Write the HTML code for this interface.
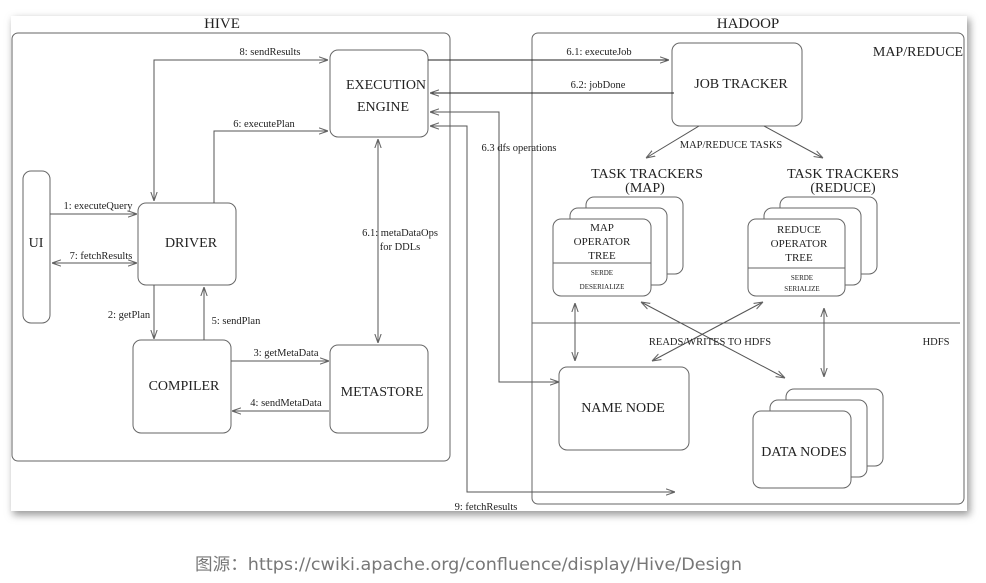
<!DOCTYPE html>
<html><head><meta charset="utf-8"><style>
html,body{margin:0;padding:0;background:#fff;}
svg{display:block;}
</style></head><body>
<svg width="986" height="583" viewBox="0 0 986 583" xmlns="http://www.w3.org/2000/svg">
<defs>
<filter id="sh" x="-5%" y="-5%" width="110%" height="115%"><feGaussianBlur stdDeviation="4"/></filter>
<marker id="a" viewBox="0 0 10 10" refX="10" refY="5" markerWidth="9" markerHeight="9" orient="auto-start-reverse" markerUnits="userSpaceOnUse"><path d="M0,1.5 L10,5 L0,8.5 M0,1.5 L10,5" fill="none" stroke="#666" stroke-width="1.2"/></marker>
</defs>
<rect x="13" y="19" width="957" height="496" fill="#999" filter="url(#sh)"/>
<rect x="11" y="16" width="956" height="495" fill="#fff"/>
<g fill="none" stroke="#666" stroke-width="1">
<rect x="12" y="33" width="438" height="428" rx="6"/>
<rect x="532" y="33" width="432" height="471" rx="6"/>
<line x1="532" y1="323" x2="960" y2="323"/>
<rect x="330" y="50" width="98" height="87" rx="8"/>
<rect x="138" y="203" width="98" height="82" rx="8"/>
<rect x="23" y="171" width="27" height="152" rx="8"/>
<rect x="133" y="340" width="98" height="93" rx="8"/>
<rect x="330" y="345" width="98" height="88" rx="8"/>
<rect x="672" y="43" width="130" height="83" rx="8"/>
<rect x="559" y="367" width="130" height="83" rx="8"/>
<rect x="786" y="389" width="97" height="77" rx="8" fill="#fff"/>
<rect x="770" y="400" width="97" height="77" rx="8" fill="#fff"/>
<rect x="753" y="411" width="98" height="77" rx="8" fill="#fff"/>
<rect x="586" y="197" width="97" height="77" rx="8" fill="#fff"/>
<rect x="570" y="208" width="97" height="77" rx="8" fill="#fff"/>
<rect x="553" y="219" width="98" height="77" rx="8" fill="#fff"/>
<line x1="553" y1="263" x2="651" y2="263"/>
<rect x="780" y="197" width="97" height="77" rx="8" fill="#fff"/>
<rect x="764" y="208" width="97" height="77" rx="8" fill="#fff"/>
<rect x="748" y="219" width="97" height="77" rx="8" fill="#fff"/>
<line x1="748" y1="268" x2="845" y2="268"/>
</g>
<g fill="none" stroke="#555" stroke-width="1">
<polyline points="154,201 154,60 328,60" marker-start="url(#a)" marker-end="url(#a)"/>
<polyline points="214,203 214,131 328,131" marker-end="url(#a)"/>
<line x1="50" y1="214" x2="137" y2="214" marker-end="url(#a)"/>
<line x1="52" y1="263" x2="137" y2="263" marker-start="url(#a)" marker-end="url(#a)"/>
<line x1="154" y1="285" x2="154" y2="339" marker-end="url(#a)"/>
<line x1="204" y1="340" x2="204" y2="287" marker-end="url(#a)"/>
<line x1="231" y1="361" x2="329" y2="361" marker-end="url(#a)"/>
<line x1="329" y1="411" x2="232" y2="411" marker-end="url(#a)"/>
<line x1="378" y1="139" x2="378" y2="343" marker-start="url(#a)" marker-end="url(#a)"/>
<line x1="428" y1="60" x2="669" y2="60" stroke="#222" marker-end="url(#a)"/>
<line x1="674" y1="93" x2="430" y2="93" stroke="#222" marker-end="url(#a)"/>
<polyline points="559,382 499,382 499,112 430,112" marker-start="url(#a)" marker-end="url(#a)"/>
<polyline points="675,492 467,492 467,126 430,126" marker-start="url(#a)" marker-end="url(#a)"/>
<line x1="699" y1="126" x2="646" y2="158" marker-end="url(#a)"/>
<line x1="764" y1="126" x2="823" y2="158" marker-end="url(#a)"/>
<line x1="575" y1="303" x2="575" y2="361" marker-start="url(#a)" marker-end="url(#a)"/>
<line x1="824" y1="308" x2="824" y2="377" marker-start="url(#a)" marker-end="url(#a)"/>
<line x1="641" y1="302" x2="785" y2="378" marker-start="url(#a)" marker-end="url(#a)"/>
<line x1="763" y1="302" x2="652" y2="361" marker-start="url(#a)" marker-end="url(#a)"/>
</g>
<g font-family="Liberation Serif, serif" fill="#222">
<g font-size="15" text-anchor="middle">
<text x="222" y="28">HIVE</text>
<text x="748" y="28">HADOOP</text>
</g>
<g font-size="14" text-anchor="middle">
<text x="386" y="89">EXECUTION</text>
<text x="383" y="111">ENGINE</text>
<text x="191" y="247">DRIVER</text>
<text x="36" y="247">UI</text>
<text x="184" y="390">COMPILER</text>
<text x="382" y="396">METASTORE</text>
<text x="741" y="88">JOB TRACKER</text>
<text x="623" y="412">NAME NODE</text>
<text x="804" y="456">DATA NODES</text>
<text x="647" y="178">TASK TRACKERS</text>
<text x="645" y="192">(MAP)</text>
<text x="843" y="178">TASK TRACKERS</text>
<text x="843" y="192">(REDUCE)</text>
<text x="918" y="56">MAP/REDUCE</text>
</g>
<g font-size="11" text-anchor="middle">
<text x="602" y="231">MAP</text>
<text x="602" y="245">OPERATOR</text>
<text x="602" y="259">TREE</text>
<text x="799" y="233">REDUCE</text>
<text x="799" y="247">OPERATOR</text>
<text x="799" y="261">TREE</text>
</g>
<g font-size="7" text-anchor="middle">
<text x="602" y="275">SERDE</text>
<text x="602" y="289">DESERIALIZE</text>
<text x="802" y="280">SERDE</text>
<text x="802" y="291">SERIALIZE</text>
</g>
<g font-size="10.5" text-anchor="middle">
<text x="270" y="55">8: sendResults</text>
<text x="264" y="127">6: executePlan</text>
<text x="98" y="209">1: executeQuery</text>
<text x="101" y="259">7: fetchResults</text>
<text x="129" y="318">2: getPlan</text>
<text x="236" y="324">5: sendPlan</text>
<text x="286" y="356">3: getMetaData</text>
<text x="286" y="406">4: sendMetaData</text>
<text x="400" y="236">6.1: metaDataOps</text>
<text x="400" y="250">for DDLs</text>
<text x="599" y="55">6.1: executeJob</text>
<text x="598" y="88">6.2: jobDone</text>
<text x="519" y="151">6.3 dfs operations</text>
<text x="731" y="148">MAP/REDUCE TASKS</text>
<text x="710" y="345">READS/WRITES TO HDFS</text>
<text x="936" y="345">HDFS</text>
<text x="486" y="510">9: fetchResults</text>
</g>
</g>
<text x="195" y="570" font-family="'DejaVu Sans', 'Noto Sans CJK SC', sans-serif" font-size="17" fill="#777" textLength="547" lengthAdjust="spacingAndGlyphs">图源：https://cwiki.apache.org/confluence/display/Hive/Design</text>
</svg>
</body></html>
